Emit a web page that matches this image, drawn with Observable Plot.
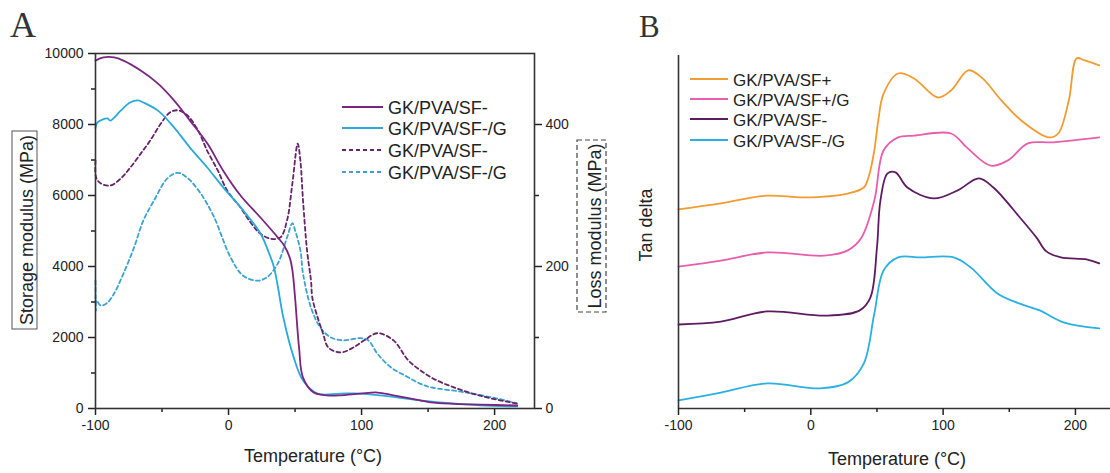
<!DOCTYPE html>
<html><head><meta charset="utf-8">
<script src="https://cdn.jsdelivr.net/npm/d3@7"></script>
<script src="https://cdn.jsdelivr.net/npm/@observablehq/plot@0.6"></script>
<style>
body{margin:0;background:#fff;}
#wrap{position:relative;width:1110px;height:473px;overflow:hidden;background:#fff;}
#a{position:absolute;left:0;top:0;}
#b{position:absolute;left:620px;top:0;}
</style>
</head><body>
<div id="wrap"><div id="a"></div><div id="b"></div></div>
<script>
// ---------- Panel A : storage modulus (MPa, left axis) ----------
const storSFm_T = [-100,-94,-86,-79,-66,-53,-41,-29,-16,-4,9,24,37,42,46,48,50,53,56,64,74,84,99,112,124,144,152,170,189,217];
const storSFm_V = [9800,9890,9890,9800,9520,9150,8680,8110,7470,6700,6000,5380,4820,4580,4250,3900,3130,1720,870,450,370,370,420,450,370,230,170,130,110,85];
const storSFmG_T = [-100,-98.5,-91,-89,-81,-74,-68,-64,-53,-41,-29,-16,-4,11,24,30,34,37,41,49,56,67,84,99,114,144,189,217];
const storSFmG_V = [7900,8060,8170,8110,8390,8620,8680,8620,8390,7920,7350,6790,6230,5580,4930,4420,4000,3450,2600,1440,790,420,420,420,370,230,90,60];
// ---------- Panel A : loss modulus (MPa, right axis) ----------
const lossSFm_T = [-100,-99.5,-96,-89,-81,-74,-66,-59,-51,-44,-38,-31,-23,-16,-8,-1,9,17,24,32,39,44,48,52,54,56,59,62,63,67,71,75,84,94,102,112,124,135,144,154,169,189,214,218];
const lossSFm_V = [349,325,317,314,324,339,359,377,401,417,420,413,392,363,335,307,283,261,246,239,241,265,317,373,349,293,223,180,156,128,106,86,79,86,96,106,96,68,54,42,30,18,8,7];
const lossSFmG_T = [-100,-99.7,-99.3,-96,-91,-86,-79,-71,-64,-56,-46,-38,-31,-21,-11,1.5,11,22,29,37,44,48,50,54,56,62,69,77,86,99,105,112,122,135,144,152,177,202,217];
const lossSFmG_V = [180,138,152,145,149,162,190,227,265,293,324,332,325,303,270,213,187,180,185,204,241,261,251,223,190,142,114,100,96,99,96,77,58,44,35,30,23,14,7];
const legendA = ["GK/PVA/SF-","GK/PVA/SF-/G","GK/PVA/SF-","GK/PVA/SF-/G"];
const xTicks = [-100,0,100,200];
const xMinor = [-50,50,150];
const yTicksA = [0,2000,4000,6000,8000,10000];
const yMinorA = [1000,3000,5000,7000,9000];
const lossTicks = [0,200,400];
const lossMinor = [100,300];

// ---------- Panel B : tan delta (arbitrary, offset curves) ----------
const tanSFp_T = [-100,-68,-33,-5,28,40,44,48,51,55,66,78,96,106,119,129,144,159,180,187,195,201,207,218];
const tanSFp_V = [0.564,0.581,0.603,0.598,0.609,0.626,0.660,0.731,0.816,0.892,0.949,0.935,0.881,0.901,0.958,0.938,0.873,0.816,0.768,0.779,0.873,0.992,0.986,0.972];
const tanSFpG_T = [-100,-68,-33,10,28,38,48,55,66,78,106,118,136,149,164,183,218];
const tanSFpG_V = [0.402,0.419,0.442,0.433,0.448,0.482,0.589,0.731,0.768,0.773,0.779,0.739,0.688,0.703,0.751,0.754,0.768];
const tanSFm_T = [-100,-68,-33,12,37,45,50,52.6,58,64,73,93,111,127,138,158,171,178,189,209,218];
const tanSFm_V = [0.238,0.246,0.275,0.263,0.278,0.314,0.456,0.589,0.666,0.669,0.626,0.595,0.618,0.652,0.626,0.541,0.482,0.445,0.428,0.422,0.411];
const tanSFmG_T = [-100,-68,-33,7,28,40,48,55,66,83,108,121,141,158,173,191,218];
const tanSFmG_V = [0.023,0.045,0.071,0.057,0.074,0.127,0.269,0.391,0.428,0.428,0.428,0.399,0.326,0.297,0.278,0.244,0.227];
const legendB = ["GK/PVA/SF+","GK/PVA/SF+/G","GK/PVA/SF-","GK/PVA/SF-/G"];

// colours
const cPurple = "#7a2580", cCyan = "#2aa9dc", cPurpleD = "#652468", cCyanD = "#3aa3d2";
const cOrange = "#f29b30", cPink = "#e85eae", cPurpleB = "#5e1b61", cCyanB = "#2bb0e2";

const rows = (T, V) => T.map((t, i) => ({t, v: V[i]}));
const fmt = d => String(d);
const FONT = "'Liberation Sans', Arial, sans-serif";
const CURVE = "catmull-rom";

const plotA = Plot.plot({
  width: 620, height: 473,
  marginLeft: 95, marginRight: 86, marginTop: 53, marginBottom: 65,
  x: {domain: [-100, 230]},
  y: {domain: [0, 10000]},
  style: {fontFamily: FONT, fontSize: "14px", color: "#222", background: "transparent"},
  marks: [
    Plot.line(rows(lossSFmG_T, lossSFmG_V), {x: "t", y: d => d.v * 20, stroke: cCyanD, strokeWidth: 1.8, strokeDasharray: "4,3", curve: CURVE}),
    Plot.line(rows(lossSFm_T, lossSFm_V), {x: "t", y: d => d.v * 20, stroke: cPurpleD, strokeWidth: 1.8, strokeDasharray: "4,3", curve: CURVE}),
    Plot.line(rows(storSFmG_T, storSFmG_V), {x: "t", y: "v", stroke: cCyan, strokeWidth: 1.8, curve: CURVE}),
    Plot.line(rows(storSFm_T, storSFm_V), {x: "t", y: "v", stroke: cPurple, strokeWidth: 1.8, curve: CURVE}),
    Plot.axisY({ticks: yTicksA, tickFormat: fmt, tickSize: 7, tickPadding: 5, label: null, strokeWidth: 1.5, fontSize: 14}),
    Plot.axisY({ticks: yMinorA, tickFormat: () => "", tickSize: 4, label: null, strokeWidth: 1.5}),
    Plot.axisY({anchor: "right", ticks: lossTicks.map(d => d * 20), tickFormat: d => String(d / 20), tickSize: 7, tickPadding: 4, label: null, strokeWidth: 1.5, fontSize: 14}),
    Plot.axisY({anchor: "right", ticks: lossMinor.map(d => d * 20), tickFormat: () => "", tickSize: 4, label: null, strokeWidth: 1.5}),
    Plot.axisX({ticks: xTicks, tickFormat: fmt, tickSize: 7, tickPadding: 5, label: null, strokeWidth: 1.5, fontSize: 14}),
    Plot.axisX({ticks: xMinor, tickFormat: () => "", tickSize: 4, label: null, strokeWidth: 1.5}),
    Plot.frame({stroke: "#333", strokeWidth: 1.6})
  ]
});
document.getElementById("a").appendChild(plotA);

const plotB = Plot.plot({
  width: 490, height: 473,
  marginLeft: 58, marginRight: 0, marginTop: 55, marginBottom: 65,
  x: {domain: [-100, 226.5]},
  y: {domain: [0, 1], axis: null},
  style: {fontFamily: FONT, fontSize: "14px", color: "#222", background: "transparent"},
  marks: [
    Plot.line(rows(tanSFmG_T, tanSFmG_V), {x: "t", y: "v", stroke: cCyanB, strokeWidth: 1.8, curve: CURVE}),
    Plot.line(rows(tanSFm_T, tanSFm_V), {x: "t", y: "v", stroke: cPurpleB, strokeWidth: 1.8, curve: CURVE}),
    Plot.line(rows(tanSFpG_T, tanSFpG_V), {x: "t", y: "v", stroke: cPink, strokeWidth: 1.8, curve: CURVE}),
    Plot.line(rows(tanSFp_T, tanSFp_V), {x: "t", y: "v", stroke: cOrange, strokeWidth: 1.8, curve: CURVE}),
    Plot.ruleX([-100], {stroke: "#333", strokeWidth: 1.6}),
    Plot.ruleY([0], {stroke: "#333", strokeWidth: 1.6}),
    Plot.axisX({ticks: xTicks, tickFormat: fmt, tickSize: 7, tickPadding: 5, label: null, strokeWidth: 1.5, fontSize: 14}),
    Plot.axisX({ticks: xMinor, tickFormat: () => "", tickSize: 4, label: null, strokeWidth: 1.5})
  ]
});
document.getElementById("b").appendChild(plotB);

// ---------- overlay: panel letters, axis titles, legends ----------
const ov = d3.select("#wrap").append("svg")
  .attr("width", 1110).attr("height", 473)
  .style("position", "absolute").style("left", 0).style("top", 0)
  .style("pointer-events", "none")
  .style("font-family", FONT);

ov.append("text").attr("x", 10).attr("y", 37).attr("font-family", "'Liberation Serif', serif").attr("font-size", 36).attr("fill", "#333").text("A");
ov.append("text").attr("x", 639).attr("y", 37).attr("font-family", "'Liberation Serif', serif").attr("font-size", 31).attr("fill", "#333").text("B");

// Storage modulus title in solid box
ov.append("rect").attr("x", 12).attr("y", 131).attr("width", 25).attr("height", 198).attr("fill", "none").attr("stroke", "#555").attr("stroke-width", 1);
ov.append("text").attr("transform", "translate(33,230) rotate(-90)").attr("text-anchor", "middle").attr("font-size", 18).attr("fill", "#222").text("Storage modulus (MPa)");
// Loss modulus title in dashed box
ov.append("rect").attr("x", 577).attr("y", 140).attr("width", 29).attr("height", 172).attr("fill", "none").attr("stroke", "#444").attr("stroke-width", 1.2).attr("stroke-dasharray", "5,3");
ov.append("text").attr("transform", "translate(601,226) rotate(-90)").attr("text-anchor", "middle").attr("font-size", 18).attr("fill", "#222").text("Loss modulus (MPa)");
// x titles
ov.append("text").attr("x", 313).attr("y", 462).attr("text-anchor", "middle").attr("font-size", 18).attr("fill", "#222").text("Temperature (°C)");
ov.append("text").attr("x", 897).attr("y", 465).attr("text-anchor", "middle").attr("font-size", 18).attr("fill", "#222").text("Temperature (°C)");
// Tan delta title
ov.append("text").attr("transform", "translate(652,225) rotate(-90)").attr("text-anchor", "middle").attr("font-size", 18).attr("fill", "#222").text("Tan delta");

// legend A
const legAStyle = [[cPurple, null], [cCyan, null], [cPurpleD, "4,3"], [cCyanD, "4,3"]];
const legAY = [107, 128, 150, 172];
legendA.forEach((name, i) => {
  const ln = ov.append("line").attr("x1", 342).attr("x2", 383).attr("y1", legAY[i]).attr("y2", legAY[i])
    .attr("stroke", legAStyle[i][0]).attr("stroke-width", 1.8);
  if (legAStyle[i][1]) ln.attr("stroke-dasharray", legAStyle[i][1]);
  ov.append("text").attr("x", 388).attr("y", legAY[i] + 6.5).attr("font-size", 18).attr("fill", "#222").text(name);
});
// legend B
const legBCol = [cOrange, cPink, cPurpleB, cCyanB];
const legBY = [79, 99, 119, 140];
legendB.forEach((name, i) => {
  ov.append("line").attr("x1", 690).attr("x2", 728).attr("y1", legBY[i]).attr("y2", legBY[i])
    .attr("stroke", legBCol[i]).attr("stroke-width", 1.8);
  ov.append("text").attr("x", 733).attr("y", legBY[i] + 6.5).attr("font-size", 17).attr("fill", "#222").text(name);
});
</script>
</body></html>
